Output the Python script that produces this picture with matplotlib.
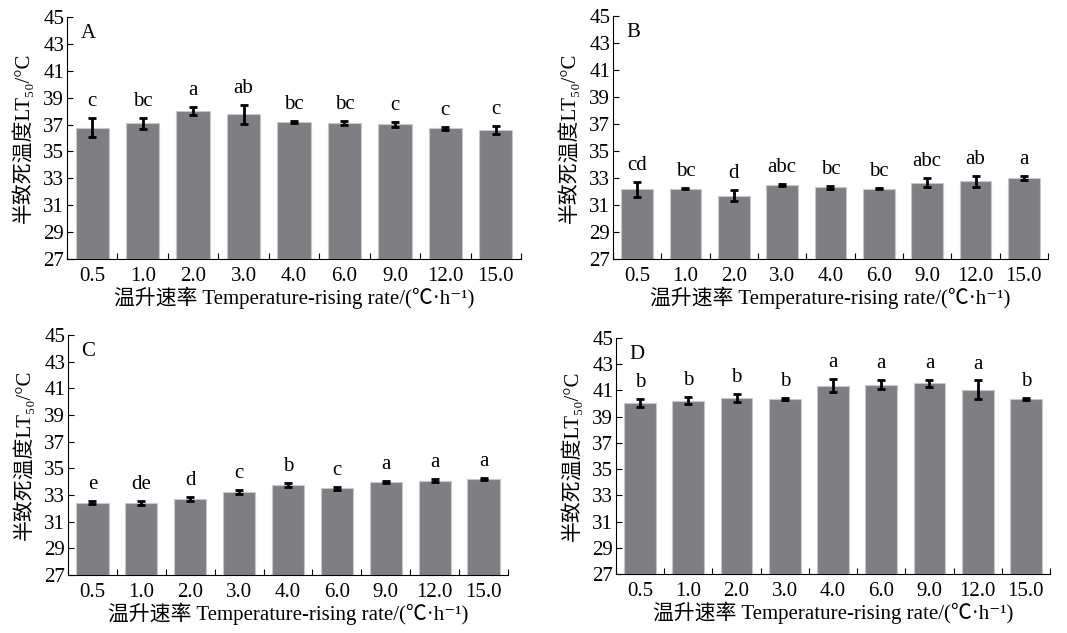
import numpy as np
import matplotlib
matplotlib.use("Agg")
import matplotlib.pyplot as plt

plt.rcParams['font.family'] = ['Liberation Serif', 'Noto Sans CJK SC', 'DejaVu Sans']

# Données
rates = ["0.5", "1.0", "2.0", "3.0", "4.0", "6.0", "9.0", "12.0", "15.0"]

lt50_A = [36.78, 37.10, 38.02, 37.77, 37.20, 37.10, 37.03, 36.71, 36.61]
err_A = [0.70, 0.40, 0.30, 0.72, 0.05, 0.15, 0.18, 0.10, 0.30]
lettres_A = ["c", "bc", "a", "ab", "bc", "bc", "c", "c", "c"]

lt50_B = [32.17, 32.22, 31.70, 32.49, 32.32, 32.22, 32.66, 32.76, 32.98]
err_B = [0.55, 0.05, 0.38, 0.10, 0.10, 0.05, 0.32, 0.42, 0.15]
lettres_B = ["cd", "bc", "d", "abc", "bc", "bc", "abc", "ab", "a"]

lt50_C = [32.43, 32.43, 32.68, 33.25, 33.75, 33.50, 34.00, 34.08, 34.18]
err_C = [0.10, 0.15, 0.15, 0.15, 0.15, 0.12, 0.07, 0.12, 0.07]
lettres_C = ["e", "de", "d", "c", "b", "c", "a", "a", "a"]

lt50_D = [40.07, 40.22, 40.42, 40.35, 41.37, 41.44, 41.54, 41.06, 40.35]
err_D = [0.30, 0.25, 0.30, 0.05, 0.50, 0.35, 0.25, 0.70, 0.10]
lettres_D = ["b", "b", "b", "b", "a", "a", "a", "a", "b"]

panneaux = [
    ("A", lt50_A, err_A, lettres_A, [0.0628, 0.5908, 0.4255, 0.3823]),
    ("B", lt50_B, err_B, lettres_B, [0.5745, 0.5908, 0.4077, 0.3840]),
    ("C", lt50_C, err_C, lettres_C, [0.0637, 0.0916, 0.4124, 0.3790]),
    ("D", lt50_D, err_D, lettres_D, [0.5773, 0.0932, 0.4068, 0.3728]),
]

fig = plt.figure(figsize=(10.67, 6.33), dpi=100)
x = np.arange(len(rates))

for nom, valeurs, erreurs, lettres, pos in panneaux:
    ax = fig.add_axes(pos)
    base = 27
    ax.bar(x, np.array(valeurs) - base, bottom=base, width=0.66,
           color="#7f7e83", edgecolor="#c8c8c8", linewidth=0.8, zorder=2)
    ax.errorbar(x, valeurs, yerr=erreurs, fmt="none", ecolor="black",
                elinewidth=2, capsize=3, capthick=2, zorder=3)
    for xi, v, e, l in zip(x, valeurs, erreurs, lettres):
        ax.annotate(l, (xi, v + e), xytext=(0, 5), textcoords="offset points",
                    ha="center", va="bottom", fontsize=15)

    ax.set_xlim(-0.5, len(rates) - 0.5)
    ax.set_ylim(27, 45)
    ax.set_yticks(np.arange(27, 46, 2))
    ax.tick_params(axis="y", direction="in", length=4, labelsize=15, pad=2)

    # Ticks majeurs entre les catégories, étiquettes au centre
    ax.set_xticks(np.arange(-0.5, len(rates), 1))
    ax.set_xticklabels([])
    ax.set_xticks(x, minor=True)
    ax.set_xticklabels(rates, minor=True, fontsize=15)
    ax.tick_params(axis="x", which="major", direction="in", length=4)
    ax.tick_params(axis="x", which="minor", length=0, pad=6)

    ax.spines["top"].set_visible(False)
    ax.spines["right"].set_visible(False)

    ax.set_ylabel("半致死温度LT₅₀/°C", fontsize=15, labelpad=7)
    ax.set_xlabel("温升速率 Temperature-rising rate/(℃·h⁻¹)", fontsize=15, labelpad=0)
    ax.text(0.03, 0.97, nom, transform=ax.transAxes, ha="left", va="top", fontsize=15)

fig.savefig("out.png", dpi=100)
